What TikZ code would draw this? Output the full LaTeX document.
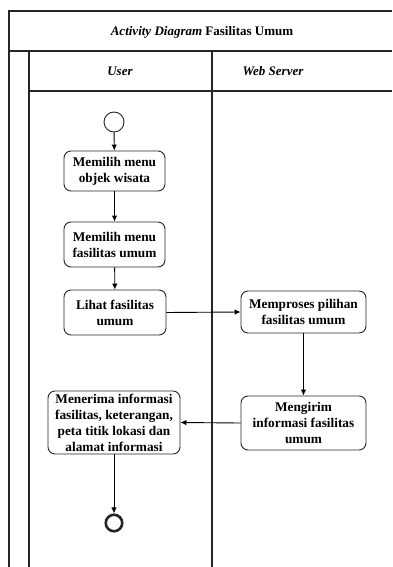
\documentclass[tikz,border=0pt]{standalone}
\usepackage{fontspec}
\setmainfont{Liberation Serif}
\usetikzlibrary{arrows.meta}
\begin{document}
\begin{tikzpicture}[x=1pt,y=-1pt,
  frame/.style={draw=black!85,line width=1.4pt},
  act/.style={draw=black!85,line width=0.9pt,rounded corners=7pt,fill=white,
    align=center,inner sep=1pt,font=\fontsize{13.3}{16}\selectfont\bfseries},
  flow/.style={draw=black,line width=0.9pt,-{Latex[length=6pt,width=5.5pt]}},
  lbl/.style={font=\fontsize{13}{15.5}\selectfont\bfseries}]
\useasboundingbox (0,0) rectangle (392,567);
\fill[white] (0,0) rectangle (392,567);
% swimlane frame
\draw[frame] (392,11) -- (9,11) -- (9,567);
\draw[frame] (9,51) -- (392,51);
\draw[frame] (29,91) -- (392,91);
\draw[frame] (29,51) -- (29,567);
\draw[frame] (212,51) -- (212,567);
\node[lbl] (title) at (202,32) {\itshape Activity Diagram\/ \upshape Fasilitas Umum};
\node[lbl] (laneuser) at (120,71) {\itshape User};
\node[lbl] (laneweb) at (273,71) {\itshape Web Server};
% activities
\node[draw=black!85,line width=0.9pt,circle,minimum size=20pt,inner sep=0pt,fill=white] (start) at (114,122) {};
\node[act,minimum width=101pt,minimum height=40pt] (a1) at (114.5,171) {Memilih menu\\objek wisata};
\node[act,minimum width=101pt,minimum height=45pt] (a2) at (114.5,244.5) {Memilih menu\\fasilitas umum};
\node[act,minimum width=102pt,minimum height=45pt] (a3) at (115,312.5) {Lihat fasilitas\\umum};
\node[act,minimum width=125pt,minimum height=42pt] (a4) at (303.5,312) {Memproses pilihan\\fasilitas umum};
\node[act,minimum width=125pt,minimum height=54pt] (a5) at (303.5,423) {Mengirim\\informasi fasilitas\\umum};
\node[act,minimum width=132pt,minimum height=63pt] (a6) at (114,422.5) {Menerima informasi\\fasilitas, keterangan,\\peta titik lokasi dan\\alamat informasi};
\node[draw=black!85,line width=2.6pt,circle,minimum size=16.5pt,inner sep=0pt,fill=white] (end) at (114,523) {};
% control flow
\draw[flow] (start) -- (a1);
\draw[flow] (a1) -- (a2);
\draw[flow] (a2) -- (a3);
\draw[flow] (a3.east) -- (a4.west);
\draw[flow] (a4) -- (a5);
\draw[flow] (a5.west) -- (a6.east);
\draw[flow] (a6) -- (end);
\end{tikzpicture}
\end{document}
